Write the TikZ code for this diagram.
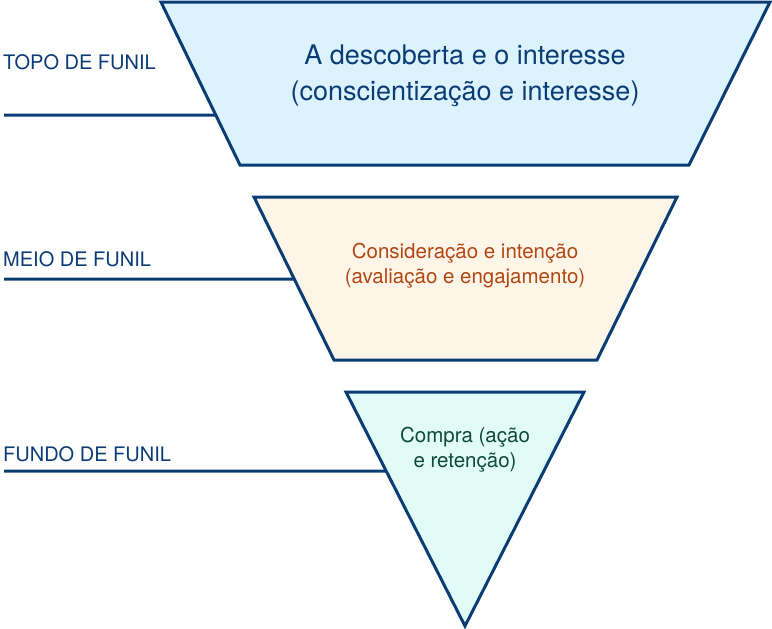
\documentclass[tikz,border=0pt]{standalone}
\usepackage{fontspec}
\setmainfont{TeX Gyre Heros}
\usetikzlibrary{calc}
\definecolor{strokeblue}{HTML}{0A3D73}
\definecolor{topfill}{HTML}{DCF3FD}
\definecolor{midfill}{HTML}{FEF5E9}
\definecolor{botfill}{HTML}{E1FBF6}
\definecolor{txtblue}{HTML}{0B3C75}
\definecolor{txtorange}{HTML}{B34712}
\definecolor{txtgreen}{HTML}{0E4A3C}
\tikzset{
  stage/.style={draw=strokeblue, line width=3pt, line join=miter},
  levelline/.style={draw=strokeblue, line width=3pt},
  levellabel/.style={anchor=base west, inner sep=0pt, text=txtblue, font=\fontsize{20}{24}\selectfont},
  toptext/.style={align=center, inner sep=0pt, text=txtblue, font=\fontsize{27}{36}\selectfont},
  midtext/.style={align=center, inner sep=0pt, text=txtorange, font=\fontsize{20.5}{25}\selectfont},
  bottext/.style={align=center, inner sep=0pt, text=txtgreen, font=\fontsize{20.5}{25}\selectfont}
}
\begin{document}
\begin{tikzpicture}[x=1pt, y=-1pt]
\useasboundingbox (0,0) rectangle (772,629);
% top trapezoid
\coordinate (t1) at (161,2);
\coordinate (t2) at (770,2);
\coordinate (t3) at (689,165);
\coordinate (t4) at (240,165);
\path[stage, fill=topfill] (t1) -- (t2) -- (t3) -- (t4) -- cycle;
% middle trapezoid
\coordinate (m1) at (254,197);
\coordinate (m2) at (677,197);
\coordinate (m3) at (597,360);
\coordinate (m4) at (334,360);
\path[stage, fill=midfill] (m1) -- (m2) -- (m3) -- (m4) -- cycle;
% bottom triangle
\coordinate (b1) at (346,392);
\coordinate (b2) at (584,392);
\coordinate (b3) at (465,626);
\path[stage, fill=botfill] (b1) -- (b2) -- (b3) -- cycle;
% level lines
\coordinate (tl) at (4,115);
\coordinate (tr) at ($(t1)!0.6933!(t4)$);
\draw[levelline] (tl) -- (tr);
\coordinate (ml) at (4,279);
\coordinate (mr) at ($(m1)!0.5031!(m4)$);
\draw[levelline] (ml) -- (mr);
\coordinate (bl) at (4,471);
\coordinate (br) at ($(b1)!0.3376!(b3)$);
\draw[levelline] (bl) -- (br);
% labels
\node[levellabel] (lt) at (3,69) {TOPO DE FUNIL};
\node[levellabel] (lm) at (3,266) {MEIO DE FUNIL};
\node[levellabel] (lb) at (3,461) {FUNDO DE FUNIL};
% stage texts
\node[toptext] (st) at (465,76) {A descoberta e o interesse\\(conscientização e interesse)};
\node[midtext] (sm) at (465,266) {Consideração e intenção\\(avaliação e engajamento)};
\node[bottext] (sb) at (465,450) {Compra (ação\\e retenção)};
\end{tikzpicture}
\end{document}
